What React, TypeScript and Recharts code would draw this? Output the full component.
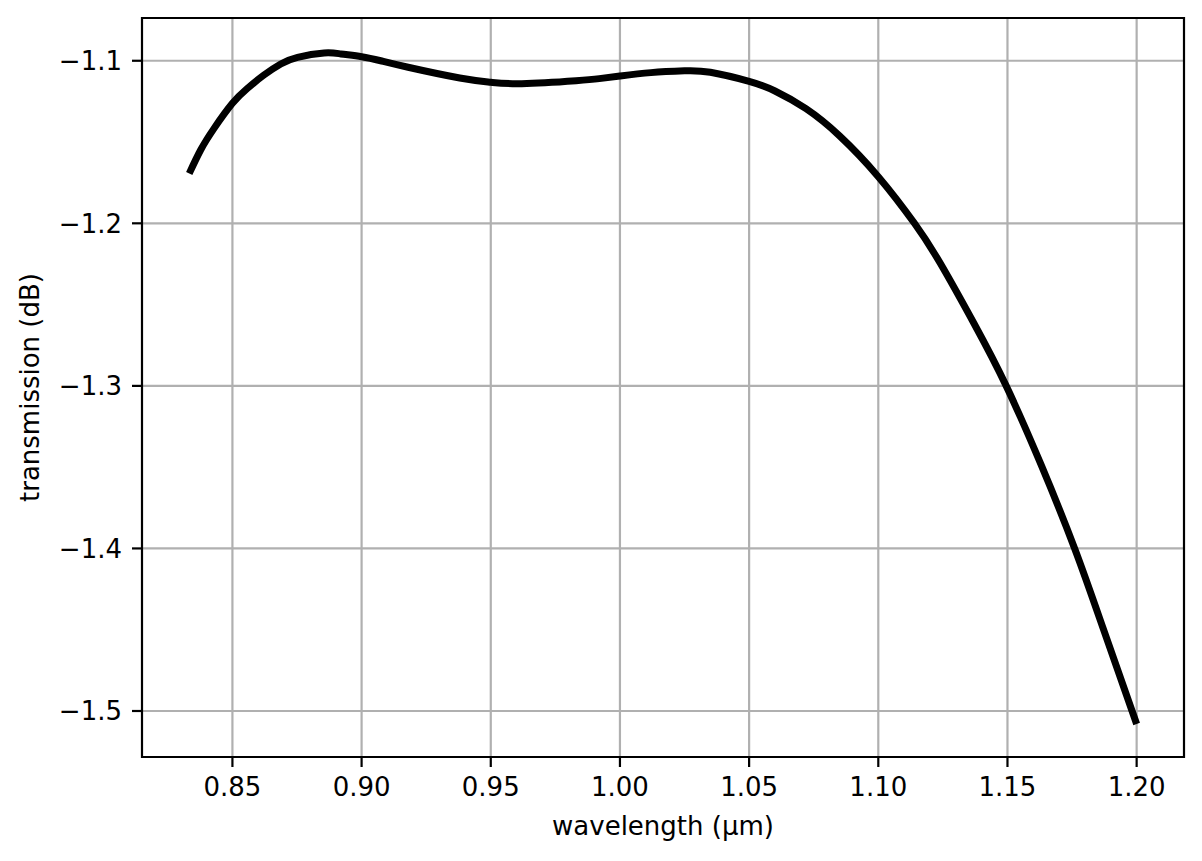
import React from 'react';
import { LineChart, Line, XAxis, YAxis, CartesianGrid, ReferenceArea } from 'recharts';

// wavelength in µm, transmission in dB
const wavelength = [
  0.8333, 0.8377, 0.8429, 0.85, 0.8558, 0.8622, 0.8687, 0.8752, 0.8855, 0.892, 0.9, 0.9074, 0.918,
  0.938, 0.95, 0.962, 0.983, 0.992, 1.0, 1.012, 1.025, 1.035, 1.05, 1.06, 1.072, 1.085, 1.1, 1.114,
  1.124, 1.137, 1.1495, 1.163, 1.176, 1.187, 1.2,
];
const transmission = [
  -1.1693, -1.1549, -1.1416, -1.1262, -1.117, -1.1088, -1.102, -1.0979, -1.0952, -1.0958, -1.0975,
  -1.1, -1.104, -1.1106, -1.1132, -1.1141, -1.1123, -1.111, -1.1094, -1.1073, -1.1062, -1.1071,
  -1.1127, -1.1186, -1.1295, -1.1462, -1.1713, -1.2, -1.2246, -1.2615, -1.3, -1.3485, -1.4, -1.449,
  -1.508,
];

const xTicks = [0.85, 0.9, 0.95, 1.0, 1.05, 1.1, 1.15, 1.2];
const yTicks = [-1.5, -1.4, -1.3, -1.2, -1.1];
const xDomain = [0.815, 1.21833];
const yDomain = [-1.5283, -1.0737];

const data = wavelength.map((x, i) => ({ x, y: transmission[i] }));

const FONT = 'DejaVu Sans';
const FS = 26;

const fmtY = (v: number) => (v < 0 ? '\u2212' : '') + Math.abs(v).toFixed(1);

const XLabel = (props: any) => {
  const vb = props.viewBox || { x: 142, y: 757, width: 1042, height: 104 };
  return (
    <text x={vb.x + vb.width / 2} y={vb.y + 78} textAnchor="middle" fontFamily={FONT} fontSize={FS} fill="#000">
      wavelength (µm)
    </text>
  );
};

const YLabel = (props: any) => {
  const vb = props.viewBox || { x: 0, y: 18, width: 142, height: 739 };
  const cx = vb.x + 39;
  const cy = vb.y + vb.height / 2;
  return (
    <text
      x={cx}
      y={cy}
      transform={`rotate(-90, ${cx}, ${cy})`}
      textAnchor="middle"
      fontFamily={FONT}
      fontSize={FS}
      fill="#000"
    >
      transmission (dB)
    </text>
  );
};

export default function App() {
  return (
    <div style={{ position: 'absolute', left: 0, top: 0, background: '#fff' }}>
      <LineChart width={1202} height={861} data={data} margin={{ top: 18, right: 18, bottom: 0, left: 0 }}>
        <CartesianGrid
          stroke="#b0b0b0"
          strokeWidth={2.2}
          horizontalValues={yTicks}
          verticalValues={xTicks}
        />
        <XAxis
          type="number"
          dataKey="x"
          domain={xDomain}
          ticks={xTicks}
          allowDataOverflow
          height={104}
          axisLine={false}
          tickLine={{ stroke: '#000', strokeWidth: 2.2 }}
          tickSize={10}
          tickMargin={11}
          tick={{ fill: '#000', fontSize: FS, fontFamily: FONT }}
          tickFormatter={(v: number) => v.toFixed(2)}
          label={<XLabel />}
        />
        <YAxis
          type="number"
          dataKey="y"
          domain={yDomain}
          ticks={yTicks}
          allowDataOverflow
          width={142}
          axisLine={false}
          tickLine={{ stroke: '#000', strokeWidth: 2.2 }}
          tickSize={10}
          tickMargin={10}
          tick={{ fill: '#000', fontSize: FS, fontFamily: FONT }}
          tickFormatter={fmtY}
          label={<YLabel />}
        />
        <Line
          type="natural"
          dataKey="y"
          stroke="#000"
          strokeWidth={7}
          dot={false}
          activeDot={false}
          isAnimationActive={false}
        />
        <ReferenceArea
          x1={xDomain[0]}
          x2={xDomain[1]}
          y1={yDomain[0]}
          y2={yDomain[1]}
          fill="none"
          stroke="#000"
          strokeWidth={2.2}
          ifOverflow="visible"
        />
      </LineChart>
    </div>
  );
}
